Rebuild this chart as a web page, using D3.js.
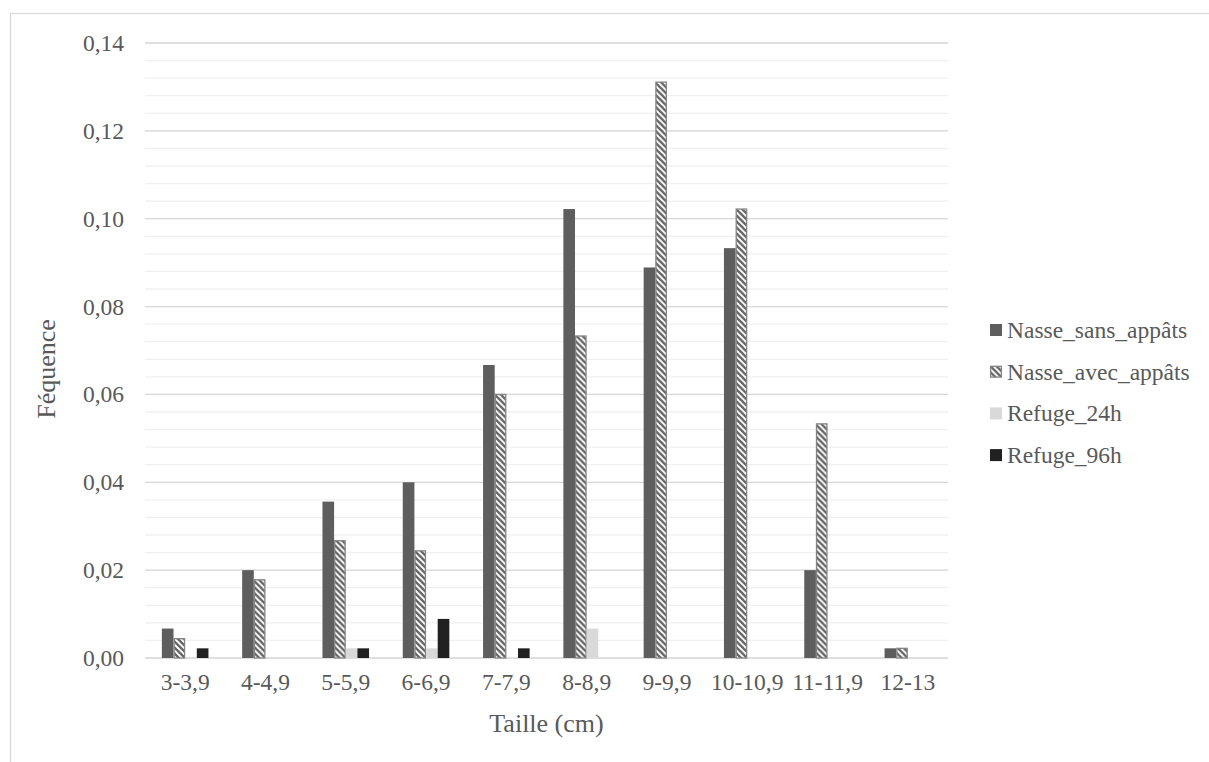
<!DOCTYPE html>
<html>
<head>
<meta charset="utf-8">
<script src="https://cdn.jsdelivr.net/npm/d3@7"></script>
<style>
  html, body { margin: 0; padding: 0; background: #ffffff; }
  svg { display: block; }
  svg text { font-family: "Liberation Serif", "Times New Roman", "DejaVu Serif", serif; }
</style>
</head>
<body>
<svg id="chart" width="1209" height="762"></svg>
<script>
// Size classes (cm)
const categories = ["3-3,9", "4-4,9", "5-5,9", "6-6,9", "7-7,9", "8-8,9", "9-9,9", "10-10,9", "11-11,9", "12-13"];

// Frequencies per capture method
const series = ["Nasse_sans_appâts", "Nasse_avec_appâts", "Refuge_24h", "Refuge_96h"];
const nasseSansAppats = [0.0067, 0.0200, 0.0356, 0.0400, 0.0667, 0.1022, 0.0889, 0.0933, 0.0200, 0.0022];
const nasseAvecAppats = [0.0044, 0.0178, 0.0267, 0.0244, 0.0600, 0.0733, 0.1311, 0.1022, 0.0533, 0.0022];
const refuge24h       = [0,      0,      0.0022, 0.0022, 0,      0.0067, 0,      0,      0,      0];
const refuge96h       = [0.0022, 0,      0.0022, 0.0089, 0.0022, 0,      0,      0,      0,      0];

// Axis ticks
const yMajorTicks = [0, 0.02, 0.04, 0.06, 0.08, 0.10, 0.12, 0.14];
const yMinorTicks = d3.range(0, 0.1401, 0.004);

const values = [nasseSansAppats, nasseAvecAppats, refuge24h, refuge96h];
const rows = categories.map((c, i) => ({
  cat: c,
  vals: series.map((s, j) => ({ key: s, value: values[j][i] }))
}));

const FONT = "Liberation Serif, Times New Roman, DejaVu Serif, serif";
const TEXT = "#595959";
const FS = 23.5;      // tick labels and legend
const FS_TITLE = 26;  // axis titles

const svg = d3.select("#chart");

// Hatch pattern for the baited trap series
const defs = svg.append("defs");
const pat = defs.append("pattern")
  .attr("id", "hatch")
  .attr("patternUnits", "userSpaceOnUse")
  .attr("width", 6).attr("height", 6);
pat.append("rect").attr("width", 6).attr("height", 6).attr("fill", "#ffffff");
pat.append("path")
  .attr("d", "M-1,-1 L7,7 M-1,5 L1,7 M5,-1 L7,1")
  .attr("stroke", "#666666").attr("stroke-width", 2.3);

const fills = {
  "Nasse_sans_appâts": "#5e5e5e",
  "Nasse_avec_appâts": "url(#hatch)",
  "Refuge_24h": "#d9d9d9",
  "Refuge_96h": "#212121"
};
const strokes = {
  "Nasse_sans_appâts": "none",
  "Nasse_avec_appâts": "#858585",
  "Refuge_24h": "none",
  "Refuge_96h": "none"
};

// Outer frame
svg.append("rect")
  .attr("x", 10.5).attr("y", 13.5)
  .attr("width", 1300).attr("height", 900)
  .attr("fill", "none").attr("stroke", "#d9d9d9").attr("stroke-width", 1.3);

const plot = { left: 145, right: 948, top: 43, bottom: 658 };

const x = d3.scaleBand().domain(categories).range([plot.left, plot.right]).padding(0);
const off = x.bandwidth() * 0.21;
const xs = d3.scaleBand().domain(series).range([off, x.bandwidth() - off]).padding(0);
const y = d3.scaleLinear().domain([0, 0.14]).range([plot.bottom, plot.top]);

// Minor gridlines
svg.append("g")
  .selectAll("line")
  .data(yMinorTicks)
  .join("line")
  .attr("x1", plot.left).attr("x2", plot.right)
  .attr("y1", d => y(d)).attr("y2", d => y(d))
  .attr("stroke", "#f0f0f0").attr("stroke-width", 1.3);

// Major gridlines
svg.append("g")
  .selectAll("line")
  .data(yMajorTicks)
  .join("line")
  .attr("x1", plot.left).attr("x2", plot.right)
  .attr("y1", d => y(d)).attr("y2", d => y(d))
  .attr("stroke", "#d9d9d9").attr("stroke-width", 1.3);

// Bars
const groups = svg.append("g")
  .selectAll("g")
  .data(rows)
  .join("g")
  .attr("transform", d => `translate(${x(d.cat)},0)`);

groups.selectAll("rect")
  .data(d => d.vals.filter(v => v.value > 0))
  .join("rect")
  .attr("x", d => xs(d.key) + (strokes[d.key] !== "none" ? 0.6 : 0))
  .attr("width", d => xs.bandwidth() - (strokes[d.key] !== "none" ? 1.2 : 0))
  .attr("y", d => y(d.value))
  .attr("height", d => y(0) - y(d.value))
  .attr("fill", d => fills[d.key])
  .attr("stroke", d => strokes[d.key])
  .attr("stroke-width", 1.3);

// Y axis labels
const yAxis = d3.axisLeft(y)
  .tickValues(yMajorTicks)
  .tickSize(0)
  .tickPadding(21)
  .tickFormat(d => d3.format(".2f")(d).replace(".", ","));
const gy = svg.append("g").attr("transform", `translate(${plot.left},0)`).call(yAxis);
gy.select(".domain").remove();
gy.attr("font-family", null).attr("font-size", null);
gy.selectAll("text")
  .style("font-family", FONT).style("font-size", FS + "px").attr("fill", TEXT);

// X axis labels
const xAxis = d3.axisBottom(x).tickSize(0).tickPadding(15);
const gx = svg.append("g").attr("transform", `translate(0,${plot.bottom})`).call(xAxis);
gx.select(".domain").remove();
gx.attr("font-family", null).attr("font-size", null);
gx.selectAll("text")
  .style("font-family", FONT).style("font-size", FS + "px").attr("fill", TEXT);

// Axis titles
svg.append("text")
  .attr("x", (plot.left + plot.right) / 2).attr("y", 732)
  .attr("text-anchor", "middle")
  .style("font-family", FONT).style("font-size", FS_TITLE + "px").attr("fill", TEXT)
  .text("Taille (cm)");

svg.append("text")
  .attr("transform", "translate(55,369) rotate(-90)")
  .attr("text-anchor", "middle")
  .style("font-family", FONT).style("font-size", FS_TITLE + "px").attr("fill", TEXT)
  .text("Féquence");

// Legend
const legend = svg.append("g").attr("transform", "translate(990,330)");
const li = legend.selectAll("g")
  .data(series)
  .join("g")
  .attr("transform", (d, i) => `translate(0,${i * 41.7})`);
li.append("rect")
  .attr("x", d => strokes[d] !== "none" ? 0.6 : 0)
  .attr("y", d => strokes[d] !== "none" ? -5.4 : -6)
  .attr("width", d => strokes[d] !== "none" ? 10.8 : 12)
  .attr("height", d => strokes[d] !== "none" ? 10.8 : 12)
  .attr("fill", d => fills[d])
  .attr("stroke", d => strokes[d])
  .attr("stroke-width", 1.3);
li.append("text")
  .attr("x", 17).attr("y", 8)
  .style("font-family", FONT).style("font-size", FS + "px").attr("fill", TEXT)
  .text(d => d);
</script>
</body>
</html>
